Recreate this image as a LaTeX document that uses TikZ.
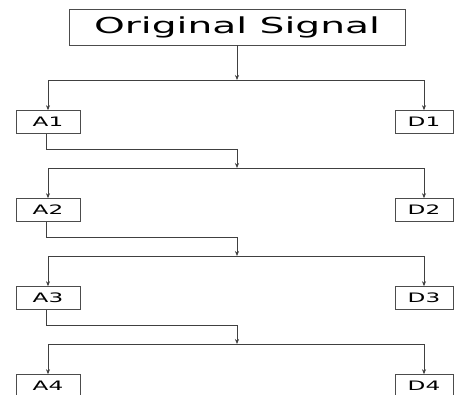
\documentclass[tikz,border=0pt]{standalone}
\usepackage{fontspec}
\newfontfamily\widefont[FakeStretch=1.78]{DejaVu Sans}
\usetikzlibrary{arrows.meta}

\tikzset{
  box/.style={draw=black!70, line width=0.6pt, inner sep=0pt, font=\widefont},
  lvl/.style={box, minimum width=64pt, minimum height=23pt, font=\widefont\fontsize{13}{15}\selectfont},
  arr/.style={draw=black!75, line width=0.6pt, -{Stealth[length=5pt,width=4pt]}},
  wire/.style={draw=black!75, line width=0.6pt}
}

\begin{document}
\begin{tikzpicture}[x=1pt,y=-1pt]
   \useasboundingbox (0,0) rectangle (454,395);
   \clip (0,0) rectangle (454,395);

   \node[box, minimum width=336pt, minimum height=36pt, font=\widefont\fontsize{22}{26}\selectfont] (sig) at (237,27) {Original Signal};
   \coordinate (j1) at (237,80);
   \draw[arr] (sig) -- (j1);

   \foreach \i [evaluate=\i as \y using 80+88*(\i-1)] in {1,...,4} {
     \coordinate (j\i) at (237,\y);
     \node[lvl] (A\i) at (48,\y+42) {A\i};
     \node[lvl, minimum width=58pt] (D\i) at (424,\y+42) {D\i};
     \draw[arr] (j\i) -| (A\i);
     \draw[arr] (j\i) -| (D\i);
   }

   \foreach \i/\k in {1/2,2/3,3/4} {
     \coordinate (b\i) at (j\k |- 0,{80+88*(\i-1)+69});
     \draw[wire] (A\i.south -| 46,0) |- (b\i);
     \draw[arr] (b\i) -- (j\k);
   }
\end{tikzpicture}
\end{document}
